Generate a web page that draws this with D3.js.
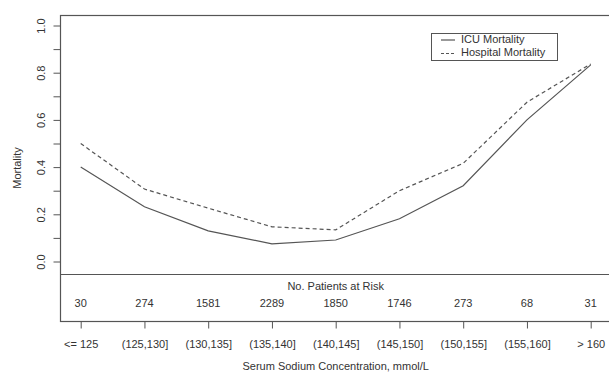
<!DOCTYPE html>
<html>
<head>
<meta charset="utf-8">
<script src="https://cdn.jsdelivr.net/npm/d3@7"></script>
<style>
  html, body { margin: 0; padding: 0; background: #fff; }
  svg text { font-family: "Liberation Sans", Arial, sans-serif; fill: #333; }
</style>
</head>
<body>
<svg id="chart" width="609" height="372"></svg>
<script>
const categories = ["<= 125", "(125,130]", "(130,135]", "(135,140]", "(140,145]", "(145,150]", "(150,155]", "(155,160]", "> 160"];
const icuMortality = [0.40, 0.232, 0.13, 0.075, 0.091, 0.181, 0.321, 0.60, 0.833];
const hospitalMortality = [0.50, 0.307, 0.226, 0.147, 0.134, 0.30, 0.416, 0.675, 0.837];
const patientsAtRisk = [30, 274, 1581, 2289, 1850, 1746, 273, 68, 31];
const yTicks = [0, 0.1, 0.2, 0.3, 0.4, 0.5, 0.6, 0.7, 0.8, 0.9, 1.0];
const yLabels = [0, 0.2, 0.4, 0.6, 0.8, 1.0];
const seriesNames = ["ICU Mortality", "Hospital Mortality"];

const svg = d3.select("#chart");
const ink = "#555";

const box = { left: 60, top: 15, right: 612, bottom: 321, sep: 274 };

const x = d3.scalePoint().domain(categories).range([80.7, 590.7]);
const y = d3.scaleLinear().domain([0, 1]).range([261.5, 25.5]);

// plot box
svg.append("rect")
  .attr("x", box.left + 0.5).attr("y", box.top + 0.5)
  .attr("width", box.right - box.left).attr("height", box.bottom - box.top)
  .attr("fill", "none").attr("stroke", ink).attr("stroke-width", 1.2);

// separator line
svg.append("line")
  .attr("x1", box.left).attr("x2", box.right)
  .attr("y1", box.sep + 0.5).attr("y2", box.sep + 0.5)
  .attr("stroke", ink).attr("stroke-width", 1.2);

// y axis
const yAxis = d3.axisLeft(y)
  .tickValues(yTicks)
  .tickSize(7)
  .tickPadding(10)
  .tickFormat(d => yLabels.some(v => Math.abs(v - d) < 1e-9) ? d3.format(".1f")(d) : "");
const yg = svg.append("g").attr("transform", `translate(${box.left + 0.5},0)`).call(yAxis);
yg.select(".domain").remove();
yg.selectAll(".tick line").attr("stroke", ink);
yg.selectAll(".tick text")
  .attr("font-size", 11)
  .attr("text-anchor", "middle")
  .attr("dy", null)
  .attr("x", null)
  .attr("transform", "translate(-18,0) rotate(-90)")
  .attr("dominant-baseline", "middle")
  .style("fill", "#333");

// y title
svg.append("text")
  .attr("transform", `translate(18,${(box.top + box.bottom) / 2}) rotate(-90)`)
  .attr("text-anchor", "middle")
  .attr("dominant-baseline", "middle")
  .attr("font-size", 11)
  .text("Mortality");

// x axis
const xAxis = d3.axisBottom(x).tickSize(7).tickPadding(12);
const xg = svg.append("g").attr("transform", `translate(0,${box.bottom + 0.5})`).call(xAxis);
xg.select(".domain").remove();
xg.selectAll(".tick line").attr("stroke", ink);
xg.selectAll(".tick text").attr("font-size", 11).style("fill", "#333");

// x title
svg.append("text")
  .attr("x", (x.range()[0] + x.range()[1]) / 2)
  .attr("y", 367)
  .attr("text-anchor", "middle")
  .attr("dominant-baseline", "middle")
  .attr("font-size", 11)
  .text("Serum Sodium Concentration, mmol/L");

// patients at risk
svg.append("text")
  .attr("x", (x.range()[0] + x.range()[1]) / 2)
  .attr("y", 287)
  .attr("text-anchor", "middle")
  .attr("dominant-baseline", "middle")
  .attr("font-size", 11)
  .text("No. Patients at Risk");

svg.append("g").selectAll("text")
  .data(categories)
  .join("text")
  .attr("x", d => x(d))
  .attr("y", 304)
  .attr("text-anchor", "middle")
  .attr("dominant-baseline", "middle")
  .attr("font-size", 11)
  .text((d, i) => patientsAtRisk[i]);

// lines
const line = d3.line()
  .x((d, i) => x(categories[i]))
  .y(d => y(d));

svg.append("path")
  .datum(icuMortality)
  .attr("d", line)
  .attr("fill", "none")
  .attr("stroke", ink)
  .attr("stroke-width", 1.2);

svg.append("path")
  .datum(hospitalMortality)
  .attr("d", line)
  .attr("fill", "none")
  .attr("stroke", ink)
  .attr("stroke-width", 1.2)
  .attr("stroke-dasharray", "4,3");

// legend
const lg = svg.append("g");
lg.append("rect")
  .attr("x", 431.5).attr("y", 33.5)
  .attr("width", 126).attr("height", 27)
  .attr("fill", "#fff").attr("stroke", ink).attr("stroke-width", 1);
seriesNames.forEach((name, i) => {
  const yy = 40 + i * 13.5;
  lg.append("line")
    .attr("x1", 441).attr("x2", 455)
    .attr("y1", yy).attr("y2", yy)
    .attr("stroke", ink).attr("stroke-width", 1.2)
    .attr("stroke-dasharray", i === 1 ? "3,2" : null);
  lg.append("text")
    .attr("x", 461).attr("y", yy)
    .attr("dominant-baseline", "middle")
    .attr("font-size", 11)
    .text(name);
});
</script>
</body>
</html>
